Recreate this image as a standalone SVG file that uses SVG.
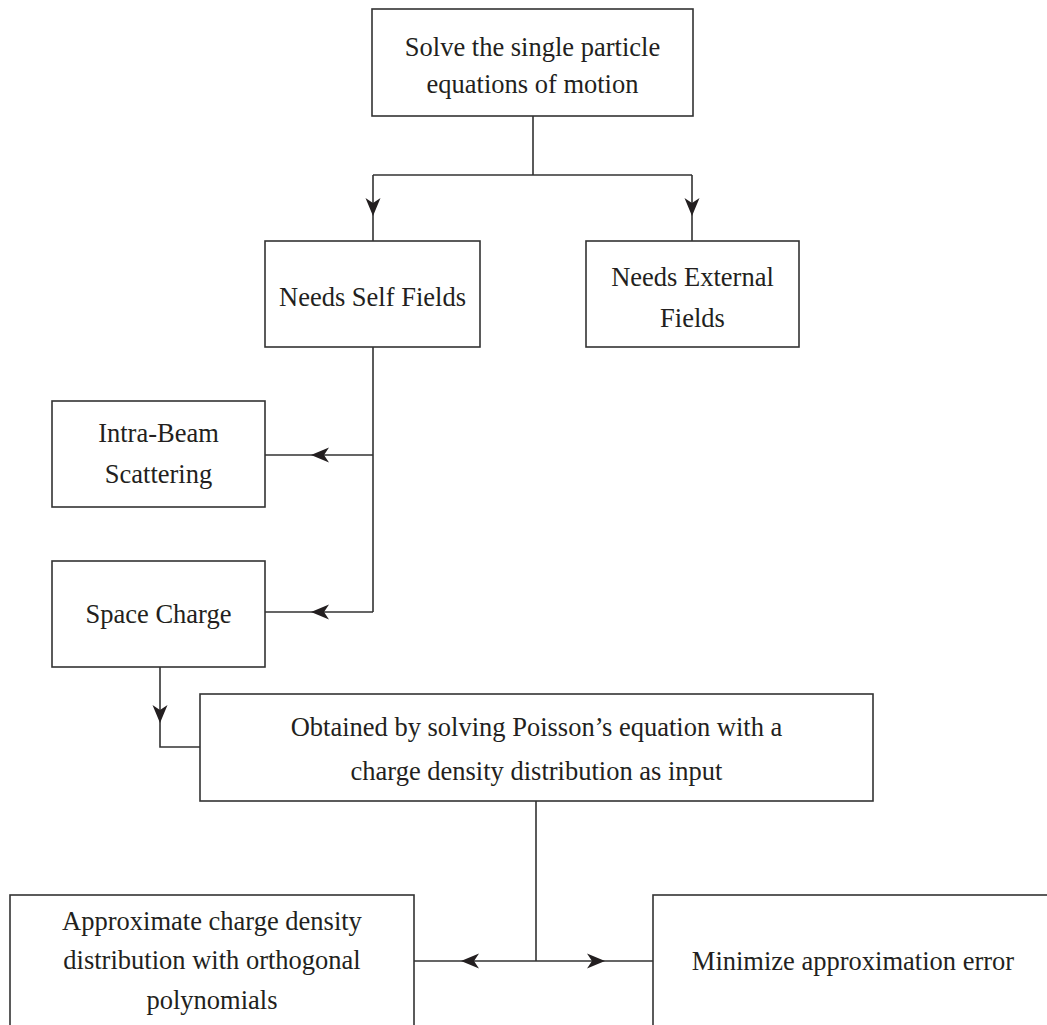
<svg xmlns="http://www.w3.org/2000/svg" xmlns:xlink="http://www.w3.org/1999/xlink" width="1047" height="1025" viewBox="0 0 1047 1025">
<style>
.box{fill:#fff;stroke:#333;stroke-width:1.6}
.ln{fill:none;stroke:#333;stroke-width:1.6}
.t{font-family:"Liberation Serif","Times New Roman",serif;font-size:26.5px;fill:#231f20;text-anchor:middle}
.ah{fill:#231f20}
</style>
<defs>
<path id="ah" d="M0,0 L-18,-7.5 L-13,0 L-18,7.5 Z"/>
</defs>
<rect width="1047" height="1025" fill="#fff"/>
<g id="connectors">
<path class="ln" d="M533,116 V175 M373,175 H692 M373,175 V241 M692,175 V241"/>
<path class="ln" d="M373,347 V612 M373,455 H265 M373,612 H265"/>
<path class="ln" d="M160,667 V747 H200"/>
<path class="ln" d="M536,801 V961 M414,961 H653"/>
<use href="#ah" class="ah" transform="translate(373,216) rotate(90)"/>
<use href="#ah" class="ah" transform="translate(692,216) rotate(90)"/>
<use href="#ah" class="ah" transform="translate(311,455) rotate(180)"/>
<use href="#ah" class="ah" transform="translate(311,612) rotate(180)"/>
<use href="#ah" class="ah" transform="translate(160,723) rotate(90)"/>
<use href="#ah" class="ah" transform="translate(461,961) rotate(180)"/>
<use href="#ah" class="ah" transform="translate(605,961)"/>
</g>
<g id="n1">
<rect class="box" x="372" y="9" width="321" height="107"/>
<text class="t" x="532.5" y="56">Solve the single particle</text>
<text class="t" x="532.5" y="93">equations of motion</text>
</g>
<g id="n2">
<rect class="box" x="265" y="241" width="215" height="106"/>
<text class="t" x="372.5" y="306">Needs Self Fields</text>
</g>
<g id="n3">
<rect class="box" x="586" y="241" width="213" height="106"/>
<text class="t" x="692.5" y="286">Needs External</text>
<text class="t" x="692.5" y="327">Fields</text>
</g>
<g id="n4">
<rect class="box" x="52" y="401" width="213" height="106"/>
<text class="t" x="158.5" y="442">Intra-Beam</text>
<text class="t" x="158.5" y="483">Scattering</text>
</g>
<g id="n5">
<rect class="box" x="52" y="561" width="213" height="106"/>
<text class="t" x="158.5" y="623">Space Charge</text>
</g>
<g id="n6">
<rect class="box" x="200" y="694" width="673" height="107"/>
<text class="t" x="536.5" y="736">Obtained by solving Poisson’s equation with a</text>
<text class="t" x="536.5" y="780">charge density distribution as input</text>
</g>
<g id="n7">
<rect class="box" x="10" y="895" width="404" height="150"/>
<text class="t" x="212" y="930">Approximate charge density</text>
<text class="t" x="212" y="969">distribution with orthogonal</text>
<text class="t" x="212" y="1009">polynomials</text>
</g>
<g id="n8">
<rect class="box" x="653" y="895" width="420" height="150"/>
<text class="t" x="853" y="970">Minimize approximation error</text>
</g>
</svg>
